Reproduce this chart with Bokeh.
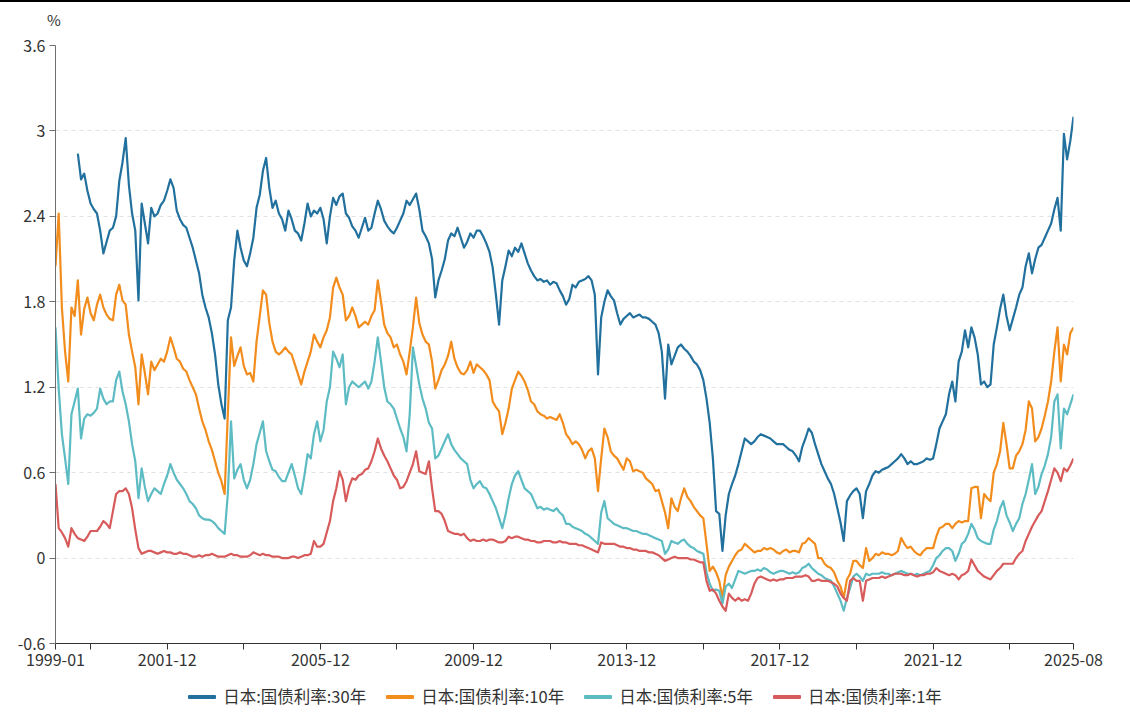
import numpy as np
import pandas as pd
from bokeh.plotting import figure
from bokeh.models import ColumnDataSource, Range1d, FixedTicker, NumeralTickFormatter, Div
from bokeh.layouts import column
from bokeh.embed import file_html
from bokeh.resources import INLINE

nan = float("nan")

# Monthly observations, 1999-01 .. 2025-08
months = [str(m) for m in pd.period_range("1999-01", "2025-08", freq="M")]

# 日本:国债利率:30年 (%)
jgb_30y = [
    nan, nan, nan, nan, nan, nan, nan, 2.84, 2.66, 2.70, 2.58, 2.49,          # 1999
    2.45, 2.42, 2.30, 2.14, 2.22, 2.30, 2.32, 2.40, 2.65, 2.78, 2.95, 2.62,   # 2000
    2.42, 2.30, 1.81, 2.49, 2.35, 2.21, 2.46, 2.40, 2.42, 2.48, 2.51, 2.58,   # 2001
    2.66, 2.60, 2.44, 2.38, 2.34, 2.32, 2.25, 2.18, 2.09, 2.00, 1.85, 1.76,   # 2002
    1.69, 1.58, 1.43, 1.22, 1.08, 0.98, 1.67, 1.76, 2.09, 2.30, 2.18, 2.09,   # 2003
    2.05, 2.14, 2.25, 2.46, 2.55, 2.72, 2.81, 2.60, 2.46, 2.51, 2.42, 2.38,   # 2004
    2.30, 2.44, 2.38, 2.30, 2.28, 2.23, 2.35, 2.49, 2.40, 2.44, 2.42, 2.46,   # 2005
    2.38, 2.21, 2.40, 2.53, 2.48, 2.54, 2.56, 2.42, 2.39, 2.33, 2.30, 2.25,   # 2006
    2.32, 2.39, 2.30, 2.32, 2.42, 2.51, 2.45, 2.37, 2.33, 2.30, 2.28, 2.32,   # 2007
    2.37, 2.42, 2.51, 2.48, 2.52, 2.56, 2.45, 2.30, 2.26, 2.21, 2.10, 1.83,   # 2008
    1.95, 2.02, 2.10, 2.23, 2.28, 2.26, 2.32, 2.25, 2.18, 2.22, 2.28, 2.25,   # 2009
    2.30, 2.30, 2.26, 2.21, 2.15, 2.04, 1.85, 1.64, 1.95, 2.05, 2.16, 2.12,   # 2010
    2.18, 2.15, 2.21, 2.14, 2.07, 2.02, 1.98, 1.95, 1.96, 1.94, 1.95, 1.92,   # 2011
    1.94, 1.93, 1.88, 1.84, 1.78, 1.82, 1.92, 1.90, 1.94, 1.95, 1.96, 1.98,   # 2012
    1.95, 1.85, 1.29, 1.69, 1.80, 1.88, 1.84, 1.81, 1.72, 1.64, 1.68, 1.70,   # 2013
    1.72, 1.69, 1.70, 1.71, 1.69, 1.69, 1.68, 1.66, 1.64, 1.58, 1.45, 1.12,   # 2014
    1.50, 1.36, 1.42, 1.48, 1.50, 1.47, 1.45, 1.42, 1.38, 1.36, 1.32, 1.25,   # 2015
    1.12, 0.95, 0.70, 0.33, 0.31, 0.05, 0.30, 0.45, 0.52, 0.58, 0.66, 0.75,   # 2016
    0.84, 0.82, 0.80, 0.82, 0.85, 0.87, 0.86, 0.85, 0.84, 0.82, 0.80, 0.80,   # 2017
    0.80, 0.78, 0.76, 0.75, 0.72, 0.68, 0.78, 0.84, 0.91, 0.88, 0.80, 0.73,   # 2018
    0.66, 0.61, 0.56, 0.52, 0.45, 0.35, 0.25, 0.12, 0.40, 0.44, 0.47, 0.49,   # 2019
    0.45, 0.28, 0.47, 0.52, 0.58, 0.61, 0.60, 0.62, 0.63, 0.64, 0.66, 0.68,   # 2020
    0.70, 0.73, 0.70, 0.66, 0.68, 0.66, 0.66, 0.67, 0.68, 0.70, 0.69, 0.70,   # 2021
    0.80, 0.91, 0.96, 1.01, 1.15, 1.24, 1.10, 1.38, 1.45, 1.60, 1.48, 1.62,   # 2022
    1.55, 1.43, 1.22, 1.24, 1.20, 1.22, 1.50, 1.62, 1.75, 1.85, 1.70, 1.60,   # 2023
    1.68, 1.76, 1.85, 1.90, 2.05, 2.14, 2.00, 2.10, 2.18, 2.20, 2.25, 2.30,   # 2024
    2.35, 2.45, 2.53, 2.30, 2.98, 2.80, 2.93, 3.10,                           # 2025
]

# 日本:国债利率:10年 (%)
jgb_10y = [
    2.05, 2.42, 1.76, 1.45, 1.24, 1.76, 1.70, 1.95, 1.57, 1.75, 1.83, 1.72,   # 1999
    1.67, 1.78, 1.85, 1.76, 1.71, 1.68, 1.67, 1.85, 1.92, 1.81, 1.78, 1.57,   # 2000
    1.45, 1.34, 1.08, 1.43, 1.30, 1.15, 1.38, 1.32, 1.36, 1.40, 1.38, 1.45,   # 2001
    1.55, 1.48, 1.40, 1.38, 1.33, 1.31, 1.25, 1.20, 1.15, 1.05, 0.96, 0.90,   # 2002
    0.82, 0.76, 0.68, 0.60, 0.54, 0.45, 1.01, 1.55, 1.35, 1.42, 1.48, 1.35,   # 2003
    1.29, 1.30, 1.24, 1.52, 1.70, 1.88, 1.85, 1.65, 1.52, 1.45, 1.43, 1.45,   # 2004
    1.48, 1.45, 1.43, 1.36, 1.29, 1.22, 1.31, 1.38, 1.45, 1.57, 1.52, 1.48,   # 2005
    1.55, 1.60, 1.69, 1.90, 1.97, 1.90, 1.85, 1.67, 1.70, 1.76, 1.70, 1.62,   # 2006
    1.64, 1.66, 1.64, 1.70, 1.74, 1.95, 1.80, 1.64, 1.58, 1.55, 1.48, 1.50,   # 2007
    1.43, 1.38, 1.29, 1.45, 1.62, 1.83, 1.65, 1.57, 1.52, 1.50, 1.38, 1.19,   # 2008
    1.25, 1.32, 1.36, 1.42, 1.52, 1.40, 1.34, 1.30, 1.29, 1.32, 1.38, 1.30,   # 2009
    1.36, 1.34, 1.32, 1.29, 1.25, 1.10, 1.06, 1.03, 0.87, 0.95, 1.05, 1.19,   # 2010
    1.25, 1.31, 1.28, 1.24, 1.18, 1.10, 1.08, 1.03, 1.01, 1.00, 0.98, 0.99,   # 2011
    0.98, 0.97, 1.01, 0.95, 0.87, 0.84, 0.80, 0.82, 0.80, 0.76, 0.70, 0.75,   # 2012
    0.77, 0.70, 0.47, 0.70, 0.91, 0.85, 0.75, 0.72, 0.70, 0.66, 0.62, 0.70,   # 2013
    0.68, 0.61, 0.62, 0.61, 0.60, 0.56, 0.54, 0.52, 0.47, 0.48, 0.40, 0.32,   # 2014
    0.21, 0.42, 0.36, 0.33, 0.42, 0.49, 0.43, 0.40, 0.36, 0.33, 0.30, 0.28,   # 2015
    0.10, -0.09, -0.06, -0.10, -0.16, -0.28, -0.12, -0.06, -0.02, 0.02, 0.05, 0.06,  # 2016
    0.10, 0.08, 0.06, 0.04, 0.05, 0.05, 0.07, 0.06, 0.07, 0.06, 0.04, 0.03,   # 2017
    0.05, 0.06, 0.04, 0.05, 0.05, 0.04, 0.10, 0.11, 0.14, 0.12, 0.10, 0.00,   # 2018
    0.00, -0.04, -0.06, -0.07, -0.10, -0.16, -0.20, -0.28, -0.15, -0.11, -0.02, -0.02,  # 2019
    -0.05, -0.07, 0.07, -0.02, 0.00, 0.03, 0.02, 0.04, 0.03, 0.03, 0.02, 0.03,  # 2020
    0.05, 0.14, 0.10, 0.07, 0.08, 0.05, 0.03, 0.02, 0.05, 0.07, 0.07, 0.07,   # 2021
    0.15, 0.21, 0.22, 0.24, 0.24, 0.21, 0.24, 0.26, 0.25, 0.26, 0.26, 0.49,   # 2022
    0.50, 0.50, 0.28, 0.45, 0.42, 0.40, 0.60, 0.66, 0.75, 0.95, 0.80, 0.63,   # 2023
    0.63, 0.72, 0.75, 0.80, 0.90, 1.10, 1.05, 0.82, 0.85, 0.91, 1.00, 1.10,   # 2024
    1.24, 1.45, 1.62, 1.24, 1.50, 1.43, 1.58, 1.62,                           # 2025
]

# 日本:国债利率:5年 (%)
jgb_5y = [
    1.62, 1.19, 0.87, 0.70, 0.52, 1.01, 1.10, 1.19, 0.84, 0.98, 1.01, 1.00,   # 1999
    1.02, 1.05, 1.19, 1.12, 1.08, 1.10, 1.10, 1.25, 1.31, 1.17, 1.08, 0.96,   # 2000
    0.80, 0.68, 0.42, 0.63, 0.50, 0.40, 0.45, 0.49, 0.47, 0.45, 0.52, 0.58,   # 2001
    0.66, 0.60, 0.55, 0.52, 0.49, 0.45, 0.40, 0.38, 0.35, 0.30, 0.28, 0.27,   # 2002
    0.27, 0.26, 0.24, 0.21, 0.19, 0.17, 0.45, 0.96, 0.56, 0.62, 0.66, 0.55,   # 2003
    0.49, 0.55, 0.66, 0.80, 0.88, 0.96, 0.75, 0.68, 0.62, 0.61, 0.57, 0.54,   # 2004
    0.54, 0.60, 0.66, 0.58, 0.49, 0.45, 0.58, 0.73, 0.70, 0.87, 0.96, 0.82,   # 2005
    0.90, 1.10, 1.20, 1.45, 1.40, 1.34, 1.43, 1.08, 1.20, 1.24, 1.22, 1.20,   # 2006
    1.22, 1.24, 1.19, 1.24, 1.38, 1.55, 1.38, 1.20, 1.10, 1.08, 1.05, 0.98,   # 2007
    0.91, 0.85, 0.75, 1.01, 1.48, 1.35, 1.22, 1.12, 1.05, 0.95, 0.91, 0.70,   # 2008
    0.72, 0.77, 0.82, 0.87, 0.80, 0.76, 0.73, 0.70, 0.68, 0.66, 0.55, 0.49,   # 2009
    0.52, 0.54, 0.50, 0.49, 0.45, 0.40, 0.35, 0.28, 0.21, 0.30, 0.42, 0.52,   # 2010
    0.58, 0.61, 0.55, 0.49, 0.47, 0.45, 0.40, 0.35, 0.36, 0.34, 0.35, 0.34,   # 2011
    0.33, 0.35, 0.32, 0.30, 0.24, 0.24, 0.22, 0.21, 0.20, 0.19, 0.17, 0.16,   # 2012
    0.14, 0.12, 0.10, 0.32, 0.40, 0.28, 0.26, 0.24, 0.23, 0.22, 0.21, 0.21,   # 2013
    0.20, 0.19, 0.19, 0.18, 0.17, 0.17, 0.16, 0.15, 0.14, 0.13, 0.12, 0.03,   # 2014
    0.06, 0.12, 0.11, 0.10, 0.12, 0.13, 0.10, 0.08, 0.07, 0.05, 0.04, 0.03,   # 2015
    -0.10, -0.18, -0.23, -0.22, -0.23, -0.32, -0.20, -0.18, -0.21, -0.15, -0.09, -0.10,  # 2016
    -0.11, -0.10, -0.09, -0.09, -0.08, -0.09, -0.07, -0.08, -0.10, -0.11, -0.10, -0.09,  # 2017
    -0.09, -0.10, -0.11, -0.10, -0.11, -0.10, -0.07, -0.06, -0.04, -0.07, -0.09, -0.11,  # 2018
    -0.12, -0.14, -0.15, -0.16, -0.20, -0.25, -0.30, -0.37, -0.28, -0.21, -0.13, -0.11,  # 2019
    -0.13, -0.16, -0.11, -0.12, -0.11, -0.11, -0.11, -0.10, -0.11, -0.11, -0.12, -0.11,  # 2020
    -0.10, -0.09, -0.10, -0.11, -0.11, -0.12, -0.11, -0.12, -0.11, -0.10, -0.09, -0.05,  # 2021
    0.00, 0.02, 0.05, 0.07, 0.07, 0.05, -0.02, 0.03, 0.10, 0.12, 0.17, 0.24,  # 2022
    0.20, 0.14, 0.12, 0.11, 0.10, 0.10, 0.20, 0.26, 0.35, 0.40, 0.30, 0.25,   # 2023
    0.19, 0.24, 0.28, 0.38, 0.45, 0.55, 0.66, 0.45, 0.50, 0.59, 0.65, 0.73,   # 2024
    0.85, 1.10, 1.15, 0.77, 1.05, 1.01, 1.08, 1.15,                           # 2025
]

# 日本:国债利率:1年 (%)
jgb_1y = [
    0.52, 0.21, 0.18, 0.14, 0.08, 0.21, 0.17, 0.14, 0.13, 0.12, 0.15, 0.19,   # 1999
    0.19, 0.19, 0.22, 0.26, 0.24, 0.21, 0.33, 0.45, 0.47, 0.47, 0.49, 0.45,   # 2000
    0.35, 0.20, 0.07, 0.03, 0.04, 0.05, 0.05, 0.04, 0.03, 0.04, 0.05, 0.04,   # 2001
    0.04, 0.03, 0.03, 0.04, 0.03, 0.03, 0.02, 0.01, 0.01, 0.02, 0.01, 0.02,   # 2002
    0.02, 0.03, 0.02, 0.01, 0.01, 0.01, 0.02, 0.03, 0.02, 0.02, 0.01, 0.01,   # 2003
    0.01, 0.02, 0.04, 0.03, 0.02, 0.03, 0.02, 0.02, 0.01, 0.01, 0.01, 0.00,   # 2004
    0.00, 0.00, 0.01, 0.01, 0.00, 0.01, 0.02, 0.02, 0.03, 0.12, 0.08, 0.08,   # 2005
    0.10, 0.18, 0.26, 0.40, 0.49, 0.61, 0.55, 0.40, 0.50, 0.56, 0.55, 0.58,   # 2006
    0.59, 0.62, 0.63, 0.68, 0.75, 0.84, 0.77, 0.72, 0.68, 0.63, 0.58, 0.55,   # 2007
    0.49, 0.50, 0.54, 0.60, 0.66, 0.75, 0.61, 0.60, 0.59, 0.68, 0.49, 0.33,   # 2008
    0.33, 0.31, 0.26, 0.19, 0.18, 0.17, 0.17, 0.16, 0.17, 0.14, 0.12, 0.13,   # 2009
    0.12, 0.12, 0.13, 0.12, 0.13, 0.13, 0.12, 0.11, 0.11, 0.12, 0.15, 0.14,   # 2010
    0.15, 0.15, 0.14, 0.13, 0.13, 0.12, 0.12, 0.11, 0.11, 0.12, 0.12, 0.12,   # 2011
    0.11, 0.11, 0.12, 0.11, 0.11, 0.10, 0.10, 0.10, 0.09, 0.09, 0.08, 0.07,   # 2012
    0.06, 0.05, 0.04, 0.11, 0.10, 0.10, 0.10, 0.10, 0.09, 0.08, 0.08, 0.07,   # 2013
    0.07, 0.06, 0.06, 0.05, 0.05, 0.05, 0.04, 0.04, 0.03, 0.02, 0.00, -0.02,  # 2014
    -0.01, 0.00, 0.01, 0.00, 0.00, 0.00, 0.00, -0.01, -0.01, -0.02, -0.03, -0.03,  # 2015
    -0.16, -0.23, -0.22, -0.25, -0.30, -0.34, -0.37, -0.25, -0.28, -0.30, -0.28, -0.30,  # 2016
    -0.29, -0.30, -0.25, -0.18, -0.14, -0.13, -0.14, -0.15, -0.16, -0.15, -0.16, -0.15,  # 2017
    -0.15, -0.14, -0.14, -0.14, -0.13, -0.13, -0.13, -0.12, -0.13, -0.16, -0.16, -0.15,  # 2018
    -0.16, -0.16, -0.16, -0.17, -0.18, -0.20, -0.25, -0.28, -0.30, -0.16, -0.14, -0.16,  # 2019
    -0.16, -0.30, -0.16, -0.15, -0.14, -0.14, -0.14, -0.13, -0.14, -0.13, -0.12, -0.11,  # 2020
    -0.11, -0.11, -0.12, -0.12, -0.11, -0.12, -0.13, -0.12, -0.12, -0.11, -0.11, -0.10,  # 2021
    -0.07, -0.09, -0.10, -0.11, -0.12, -0.11, -0.12, -0.15, -0.12, -0.11, -0.09, -0.01,  # 2022
    -0.05, -0.09, -0.11, -0.13, -0.14, -0.15, -0.12, -0.09, -0.07, -0.04, -0.04, -0.04,  # 2023
    -0.04, 0.00, 0.03, 0.05, 0.12, 0.17, 0.22, 0.26, 0.30, 0.33, 0.40, 0.47,  # 2024
    0.55, 0.63, 0.60, 0.54, 0.63, 0.61, 0.65, 0.70,                           # 2025
]

series_names = ["日本:国债利率:30年", "日本:国债利率:10年", "日本:国债利率:5年", "日本:国债利率:1年"]
series_colors = ["#21709d", "#f28d1d", "#5dbcc3", "#d85b5b"]

# Axis ticks
x_labeled = ["1999-01", "2001-12", "2005-12", "2009-12", "2013-12", "2017-12", "2021-12", "2025-08"]
x_unlabeled = ["1999-12", "2003-12", "2007-12", "2011-12", "2015-12", "2019-12", "2023-12"]
y_ticks = [-0.6, 0, 0.6, 1.2, 1.8, 2.4, 3.0, 3.6]
unit_label = "%"

FONT = "Noto Sans CJK SC"
TEXT = "#333333"

idx = np.arange(len(months))
source = ColumnDataSource(data=dict(
    idx=idx,
    y30=np.array(jgb_30y, dtype=float),
    y10=np.array(jgb_10y, dtype=float),
    y5=np.array(jgb_5y, dtype=float),
    y1=np.array(jgb_1y, dtype=float),
))

p = figure(width=1130, height=649, output_backend="svg", toolbar_location=None,
           x_range=Range1d(0, len(months) - 1), y_range=Range1d(y_ticks[0], y_ticks[-1]),
           min_border_left=55, min_border_right=57, min_border_top=12, min_border_bottom=39)
p.outline_line_color = None
p.background_fill_color = "white"
p.border_fill_color = "white"

for col, color in zip(["y30", "y10", "y5", "y1"], series_colors):
    p.line("idx", col, source=source, line_color=color, line_width=2.2, line_join="round")

# grid
p.xgrid.visible = False
p.ygrid.grid_line_color = "#e2e2e2"
p.ygrid.grid_line_dash = "4 4"
p.ygrid.grid_line_width = 1

# y axis
yax = p.yaxis[0]
yax.ticker = FixedTicker(ticks=y_ticks, minor_ticks=[])
yax.formatter = NumeralTickFormatter(format="0.[0]")
yax.axis_line_color = "#6e6e6e"
yax.major_tick_line_color = "#6e6e6e"
yax.major_tick_out = 6
yax.major_tick_in = 0
yax.minor_tick_line_color = None
yax.major_label_standoff = 4
yax.major_label_text_font = FONT
yax.major_label_text_font_size = "16px"
yax.major_label_text_color = TEXT

# x axis
pos = {m: i for i, m in enumerate(months)}
tick_pos = sorted(pos[m] for m in x_labeled + x_unlabeled)
xax = p.xaxis[0]
xax.ticker = FixedTicker(ticks=tick_pos, minor_ticks=[])
overrides = {pos[m]: "" for m in x_unlabeled}
overrides.update({pos[m]: m for m in x_labeled})
xax.major_label_overrides = overrides
xax.axis_line_color = "#333333"
xax.major_tick_line_color = "#333333"
xax.major_tick_out = 6
xax.major_tick_in = 0
xax.minor_tick_line_color = None
xax.major_label_standoff = 4
xax.major_label_text_font = FONT
xax.major_label_text_font_size = "16px"
xax.major_label_text_color = TEXT

# header strip: black rule plus the unit above the y axis
header_html = ('<div style="position:relative;width:1130px;height:31px;border-top:2px solid #000;">'
               '<span style="position:absolute;left:47px;top:8px;font-family:\'{f}\';'
               'font-size:15px;line-height:20px;color:{c};">{u}</span></div>').format(
    f=FONT, c=TEXT, u=unit_label)
header_div = Div(text=header_html, width=1130, height=33, margin=0)

# legend row under the chart
swatch = ('<span style="display:inline-flex;align-items:center;">'
          '<span style="display:inline-block;width:28px;height:4px;border-radius:1px;'
          'background:{c};margin-right:7px;"></span>{t}</span>')
legend_html = ('<div style="display:flex;justify-content:center;align-items:center;'
               'width:1130px;height:30px;gap:20px;font-family:\'{f}\';font-size:16.5px;'
               'color:{col};white-space:nowrap;">{items}</div>').format(
    f=FONT, col=TEXT,
    items="".join(swatch.format(c=c, t=t) for t, c in zip(series_names, series_colors)))
legend_div = Div(text=legend_html, width=1130, height=33, margin=0)

layout = column(header_div, p, legend_div, spacing=0)

open("out.html", "w").write(file_html(layout, INLINE))
